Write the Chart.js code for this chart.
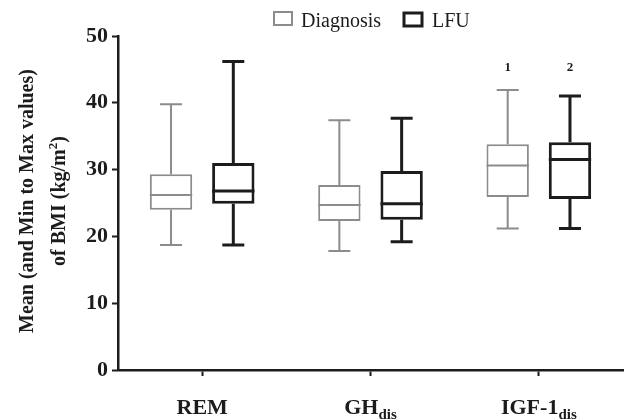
<!DOCTYPE html>
<html>
<head>
<meta charset="utf-8">
<script src="https://cdn.jsdelivr.net/npm/chart.js@4.4.1/dist/chart.umd.min.js"></script>
<style>
  body { margin: 0; background: #fff; }
  #wrap { width: 628px; height: 420px; }
</style>
</head>
<body>
<div id="wrap"><canvas id="chart" width="628" height="420"></canvas></div>
<script>
// Categories (main label + subscript)
const categories = ['REM', 'GH', 'IGF-1'];
const categorySubs = ['', 'dis', 'dis'];

// Diagnosis box values
const diagMin = [18.7, 17.8, 21.2];
const diagQ1 = [24.0, 22.3, 25.9];
const diagMed = [26.2, 24.7, 30.6];
const diagQ3 = [29.3, 27.7, 33.8];
const diagMax = [39.8, 37.4, 41.9];
const diagMarks = ['', '', '1'];

// LFU box values
const lfuMin = [18.7, 19.2, 21.2];
const lfuQ1 = [24.9, 22.5, 25.6];
const lfuMed = [26.8, 24.9, 31.5];
const lfuQ3 = [31.0, 29.8, 34.1];
const lfuMax = [46.2, 37.7, 41.0];
const lfuMarks = ['', '', '2'];

// Axis ticks
const yTicks = [0, 10, 20, 30, 40, 50];
const markLevel = 45.2;

const GREY = '#8c8c8c';
const BLACK = '#1c1c1c';
const SERIF = '"Liberation Serif", "DejaVu Serif", serif';

// Whiskers, medians, labels
const boxPlugin = {
    id: 'boxExtras',
    afterDatasetsDraw(chart) {
        const ctx = chart.ctx;
        const y = chart.scales.y;
        const sets = [
            { min: diagMin, med: diagMed, q1: diagQ1, q3: diagQ3, max: diagMax, marks: diagMarks, color: GREY, lw: 2 },
            { min: lfuMin, med: lfuMed, q1: lfuQ1, q3: lfuQ3, max: lfuMax, marks: lfuMarks, color: BLACK, lw: 3 }
        ];
        sets.forEach((s, di) => {
            const meta = chart.getDatasetMeta(di);
            meta.data.forEach((bar, i) => {
                const x = bar.x;
                const half = bar.width / 2;
                const cap = 11;
                ctx.save();
                ctx.strokeStyle = s.color;
                ctx.lineWidth = s.lw;
                ctx.beginPath();
                // upper whisker
                ctx.moveTo(x, y.getPixelForValue(s.q3[i]));
                ctx.lineTo(x, y.getPixelForValue(s.max[i]));
                ctx.moveTo(x - cap, y.getPixelForValue(s.max[i]));
                ctx.lineTo(x + cap, y.getPixelForValue(s.max[i]));
                // lower whisker
                ctx.moveTo(x, y.getPixelForValue(s.q1[i]));
                ctx.lineTo(x, y.getPixelForValue(s.min[i]));
                ctx.moveTo(x - cap, y.getPixelForValue(s.min[i]));
                ctx.lineTo(x + cap, y.getPixelForValue(s.min[i]));
                // median
                ctx.moveTo(x - half, y.getPixelForValue(s.med[i]));
                ctx.lineTo(x + half, y.getPixelForValue(s.med[i]));
                ctx.stroke();
                if (s.marks[i]) {
                    ctx.fillStyle = BLACK;
                    ctx.font = 'bold 13px ' + SERIF;
                    ctx.textAlign = 'center';
                    ctx.textBaseline = 'middle';
                    ctx.fillText(s.marks[i], x, y.getPixelForValue(markLevel));
                }
                ctx.restore();
            });
        });
    },
    afterDraw(chart) {
        const ctx = chart.ctx;
        const xs = chart.scales.x;
        ctx.save();
        ctx.fillStyle = BLACK;
        // x category labels with subscripts
        categories.forEach((c, i) => {
            const cx = xs.getPixelForValue(i);
            ctx.font = 'bold 22px ' + SERIF;
            const w1 = ctx.measureText(c).width;
            ctx.font = 'bold 15px ' + SERIF;
            const w2 = categorySubs[i] ? ctx.measureText(categorySubs[i]).width : 0;
            const left = cx - (w1 + w2) / 2;
            ctx.textAlign = 'left';
            ctx.textBaseline = 'alphabetic';
            ctx.font = 'bold 22px ' + SERIF;
            ctx.fillText(c, left, 414);
            if (categorySubs[i]) {
                ctx.font = 'bold 15px ' + SERIF;
                ctx.fillText(categorySubs[i], left + w1, 419);
            }
        });
        // y axis title, two lines
        ctx.save();
        ctx.translate(33, 201);
        ctx.rotate(-Math.PI / 2);
        ctx.textAlign = 'center';
        ctx.textBaseline = 'alphabetic';
        ctx.font = 'bold 20px ' + SERIF;
        ctx.fillText('Mean (and Min to Max values)', 0, 0);
        ctx.restore();
        ctx.save();
        ctx.translate(65, 201);
        ctx.rotate(-Math.PI / 2);
        ctx.textBaseline = 'alphabetic';
        ctx.font = 'bold 20px ' + SERIF;
        const t1 = 'of BMI (kg/m';
        const t2 = ')';
        const w1 = ctx.measureText(t1).width;
        const w3 = ctx.measureText(t2).width;
        ctx.font = 'bold 13px ' + SERIF;
        const w2 = ctx.measureText('2').width;
        const sx = -(w1 + w2 + w3) / 2;
        ctx.textAlign = 'left';
        ctx.font = 'bold 20px ' + SERIF;
        ctx.fillText(t1, sx, 0);
        ctx.font = 'bold 13px ' + SERIF;
        ctx.fillText('2', sx + w1, -8);
        ctx.font = 'bold 20px ' + SERIF;
        ctx.fillText(t2, sx + w1 + w2, 0);
        ctx.restore();
        // legend
        ctx.font = '20px ' + SERIF;
        ctx.textAlign = 'left';
        ctx.textBaseline = 'alphabetic';
        ctx.lineWidth = 2;
        ctx.strokeStyle = GREY;
        ctx.strokeRect(274, 12, 18, 13);
        ctx.fillText('Diagnosis', 301, 27);
        ctx.lineWidth = 3;
        ctx.strokeStyle = BLACK;
        ctx.strokeRect(404, 13, 18, 13);
        ctx.fillText('LFU', 432, 27);
        ctx.restore();
    }
};

const ctx = document.getElementById('chart').getContext('2d');
const chart = new Chart(ctx, {
    type: 'bar',
    data: {
        labels: categories,
        datasets: [{
            label: 'Diagnosis',
            data: categories.map((c, i) => [diagQ1[i], diagQ3[i]]),
            backgroundColor: '#ffffff',
            borderColor: GREY,
            borderWidth: 2,
            borderSkipped: false
        }, {
            label: 'LFU',
            data: categories.map((c, i) => [lfuQ1[i], lfuQ3[i]]),
            backgroundColor: '#ffffff',
            borderColor: BLACK,
            borderWidth: 3,
            borderSkipped: false
        }]
    },
    options: {
        responsive: false,
        animation: false,
        categoryPercentage: 0.74,
        barPercentage: 0.68,
        layout: { padding: { left: 0, right: 5, top: 36, bottom: 0 } },
        plugins: {
            legend: { display: false },
            tooltip: { enabled: false }
        },
        scales: {
            x: {
                grid: { drawOnChartArea: false, offset: false, tickLength: 6, tickWidth: 2, tickColor: BLACK },
                border: { color: BLACK, width: 2.5 },
                ticks: { display: false },
                afterFit(scale) { scale.height = 50; }
            },
            y: {
                min: 0,
                max: 50,
                afterBuildTicks(scale) { scale.ticks = yTicks.map(v => ({ value: v })); },
                grid: { drawOnChartArea: false, tickLength: 6, tickWidth: 2, tickColor: BLACK },
                border: { color: BLACK, width: 2.5 },
                ticks: {
                    color: BLACK,
                    padding: 4,
                    font: { family: SERIF, size: 22, weight: 'bold' }
                },
                afterFit(scale) { scale.width = 118; }
            }
        }
    },
    plugins: [boxPlugin]
});
</script>
</body>
</html>
